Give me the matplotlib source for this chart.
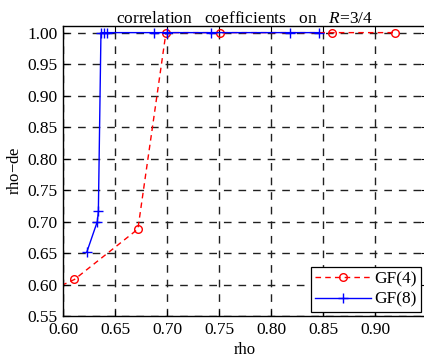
import matplotlib
matplotlib.use("Agg")
import matplotlib.pyplot as plt

# GF(4) data (red dashed, circles); first point lies left of the visible range
gf4_x = [0.590, 0.611, 0.672, 0.699, 0.751, 0.859, 0.919]
gf4_y = [0.592, 0.608, 0.688, 1.000, 1.000, 1.000, 1.000]

# GF(8) data (blue solid, plus markers)
gf8_x = [0.623, 0.633, 0.634, 0.6365, 0.639, 0.642, 0.6875, 0.700, 0.742, 0.818, 0.846]
gf8_y = [0.652, 0.700, 0.716, 1.000, 1.000, 1.000, 1.000, 1.000, 1.000, 1.000, 1.000]

xticks = [0.60, 0.65, 0.70, 0.75, 0.80, 0.85, 0.90]
yticks = [0.55, 0.60, 0.65, 0.70, 0.75, 0.80, 0.85, 0.90, 0.95, 1.00]

plt.rcParams['font.family'] = ['Liberation Serif', 'DejaVu Serif']
plt.rcParams['mathtext.fontset'] = 'custom'
plt.rcParams['mathtext.it'] = 'Liberation Serif:italic'
plt.rcParams['mathtext.rm'] = 'Liberation Serif'

fig = plt.figure(figsize=(4.24, 3.61), dpi=100)
ax = fig.add_axes([63/424, 45/361, 364/424, 290.3/361])

ax.plot(gf4_x, gf4_y, color='red', linestyle=(0, (4, 3)), linewidth=1.0,
        marker='o', markersize=5.5, markerfacecolor='none', markeredgecolor='red',
        markeredgewidth=1.0, label='GF(4)')
ax.plot(gf8_x, gf8_y, color='blue', linestyle='-', linewidth=1.0,
        marker='+', markersize=7, markeredgewidth=1.0, label='GF(8)')

ax.set_xlim(0.60, 0.95)
ax.set_ylim(0.55, 1.011)
ax.set_xticks(xticks)
ax.set_yticks(yticks)
ax.set_xticklabels([f"{v:.2f}" for v in xticks])
ax.set_yticklabels([f"{v:.2f}" for v in yticks])
ax.tick_params(direction='in', top=True, right=True, labelsize=12.5, length=4, width=0.8, pad=4)
ax.grid(True, color='#202020', linestyle=(0, (5.5, 5)), linewidth=1.0)
ax.set_axisbelow(True)
for s in ax.spines.values():
    s.set_linewidth(1.0)

ax.set_title(r'correlation   coefficients   on   $R$=3/4', fontsize=12.5, pad=2)
ax.set_xlabel('rho', fontsize=12, labelpad=3)
ax.set_ylabel('rho$-$de', fontsize=12, labelpad=3)

leg = ax.legend(loc='lower right', bbox_to_anchor=(421/424, (361-312)/361),
                bbox_transform=fig.transFigure, fontsize=12.5, frameon=True,
                fancybox=False, edgecolor='black', framealpha=1, borderpad=0.25,
                handlelength=3.2, handletextpad=0.2, labelspacing=0.25, borderaxespad=0)
leg.get_frame().set_linewidth(0.9)

fig.savefig('out.png', dpi=100)
